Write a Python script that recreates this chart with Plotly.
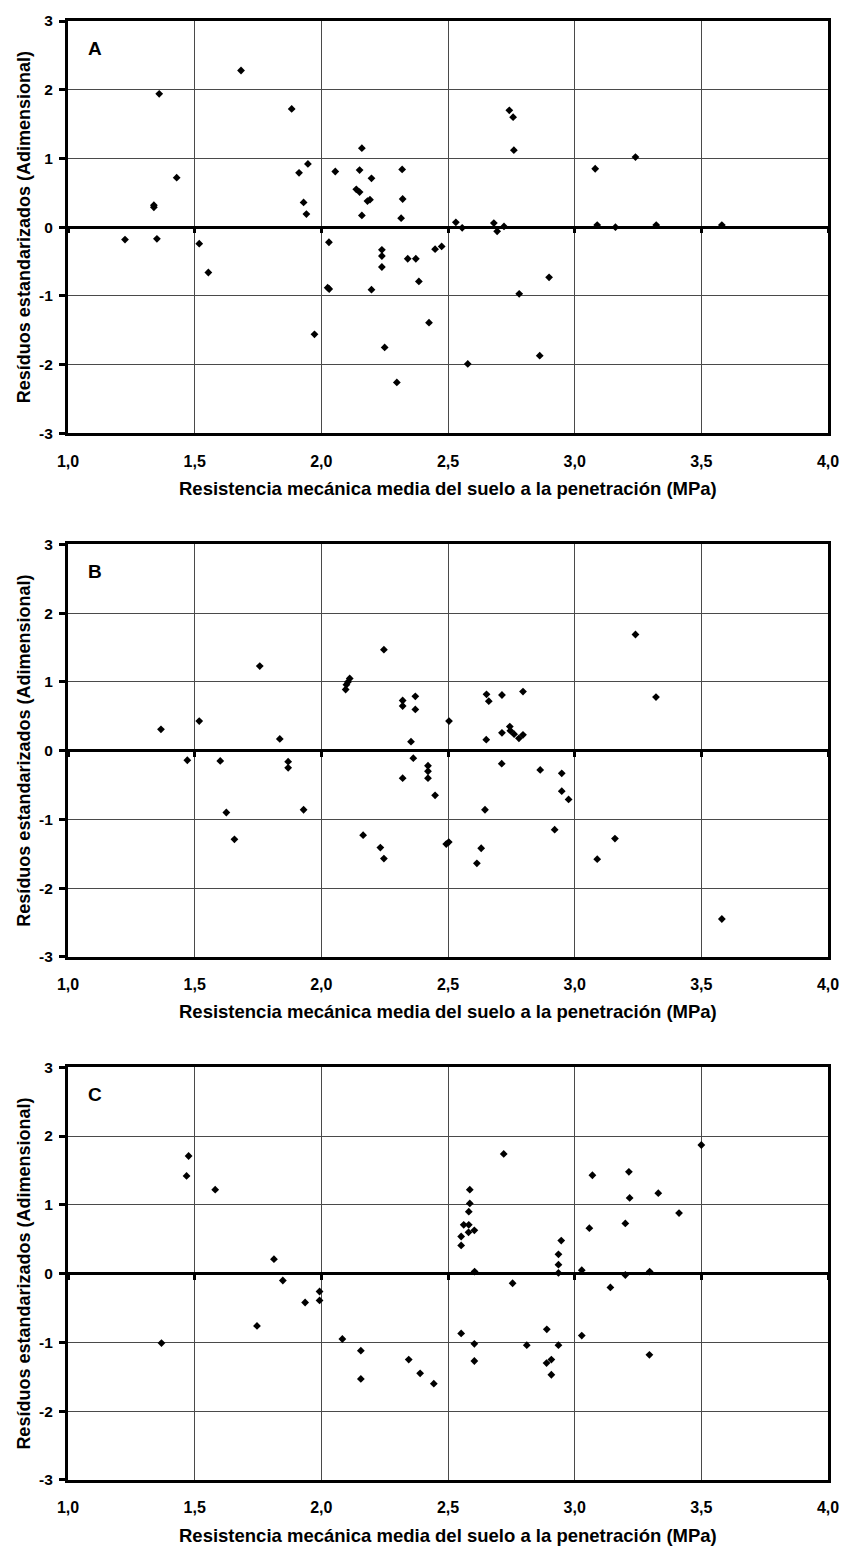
import plotly.graph_objects as go

# ---------------- data ----------------
x_tick_vals = [1.0, 1.5, 2.0, 2.5, 3.0, 3.5, 4.0]
x_tick_text = ["1,0", "1,5", "2,0", "2,5", "3,0", "3,5", "4,0"]
y_tick_vals = [-3, -2, -1, 0, 1, 2, 3]
y_tick_text = ["-3", "-2", "-1", "0", "1", "2", "3"]

panel_labels = ["A", "B", "C"]
x_title = "Resistencia mecánica media del suelo a la penetración (MPa)"
y_title = "Resíduos estandarizados (Adimensional)"

a_x = [1.225, 1.36, 1.339, 1.339, 1.351, 1.429, 1.518, 1.554, 1.683, 1.883,
       1.912, 1.947, 1.930, 1.941, 1.973, 2.030, 2.025, 2.031, 2.055, 2.160,
       2.151, 2.138, 2.151, 2.160, 2.198, 2.182, 2.192, 2.198, 2.239, 2.239,
       2.239, 2.250, 2.298, 2.319, 2.321, 2.315, 2.341, 2.373, 2.385, 2.425,
       2.449, 2.475, 2.531, 2.556, 2.578, 2.681, 2.694, 2.721, 2.742, 2.757,
       2.760, 2.781, 2.862, 2.899, 3.081, 3.089, 3.161, 3.240, 3.322, 3.581]
a_y = [-0.18, 1.94, 0.32, 0.29, -0.17, 0.72, -0.24, -0.66, 2.28, 1.72,
       0.79, 0.92, 0.36, 0.19, -1.56, -0.22, -0.88, -0.90, 0.81, 1.15,
       0.83, 0.55, 0.51, 0.17, 0.71, 0.38, 0.40, -0.91, -0.33, -0.42,
       -0.58, -1.75, -2.26, 0.84, 0.41, 0.13, -0.46, -0.46, -0.79, -1.39,
       -0.32, -0.28, 0.07, -0.01, -1.99, 0.06, -0.06, 0.01, 1.70, 1.60,
       1.12, -0.97, -1.87, -0.73, 0.85, 0.03, 0.0, 1.02, 0.03, 0.03]

b_x = [1.367, 1.471, 1.518, 1.601, 1.625, 1.657, 1.757, 1.836, 1.869, 1.869,
       1.930, 2.096, 2.099, 2.105, 2.112, 2.165, 2.233, 2.247, 2.247, 2.321,
       2.321, 2.371, 2.371, 2.354, 2.363, 2.321, 2.421, 2.421, 2.421, 2.449,
       2.493, 2.503, 2.504, 2.614, 2.631, 2.646, 2.651, 2.652, 2.661, 2.713,
       2.713, 2.712, 2.744, 2.746, 2.761, 2.780, 2.796, 2.796, 2.864, 2.921,
       2.949, 2.949, 2.976, 3.089, 3.159, 3.240, 3.321, 3.581]
b_y = [0.31, -0.14, 0.43, -0.15, -0.90, -1.29, 1.23, 0.17, -0.16, -0.25,
       -0.86, 0.89, 0.96, 1.00, 1.05, -1.23, -1.41, -1.57, 1.47, 0.73,
       0.65, 0.79, 0.60, 0.13, -0.11, -0.40, -0.22, -0.30, -0.40, -0.65,
       -1.36, -1.33, 0.43, -1.64, -1.42, -0.86, 0.16, 0.82, 0.72, 0.81,
       0.26, -0.19, 0.35, 0.29, 0.24, 0.18, 0.23, 0.86, -0.28, -1.15,
       -0.33, -0.59, -0.71, -1.58, -1.28, 1.69, 0.78, -2.45]

c_x = [1.369, 1.468, 1.476, 1.581, 1.746, 1.813, 1.848, 1.936, 1.993, 1.993,
       2.083, 2.156, 2.156, 2.345, 2.390, 2.444, 2.552, 2.552, 2.562, 2.581,
       2.582, 2.582, 2.586, 2.586, 2.604, 2.605, 2.552, 2.604, 2.604, 2.720,
       2.755, 2.811, 2.890, 2.889, 2.908, 2.908, 2.936, 2.936, 2.936, 2.936,
       2.947, 3.028, 3.028, 3.058, 3.070, 3.141, 3.200, 3.200, 3.214, 3.217,
       3.296, 3.295, 3.330, 3.412, 3.500]
c_y = [-1.01, 1.42, 1.71, 1.22, -0.76, 0.21, -0.10, -0.42, -0.26, -0.39,
       -0.95, -1.12, -1.53, -1.25, -1.45, -1.60, 0.41, 0.54, 0.71, 0.60,
       0.71, 0.90, 1.02, 1.22, 0.63, 0.03, -0.87, -1.02, -1.27, 1.74,
       -0.14, -1.04, -0.81, -1.30, -1.25, -1.47, -1.04, 0.01, 0.13, 0.28,
       0.48, 0.05, -0.90, 0.66, 1.43, -0.20, 0.73, -0.02, 1.48, 1.10,
       0.03, -1.18, 1.17, 0.88, 1.87]

# ---------------- figure ----------------
FONT = "Liberation Sans, Arial, sans-serif"
W, H = 851, 1546
ML, MR, MT, MB = 68, 14, 14, 66

panels = [(a_x, a_y), (b_x, b_y), (c_x, c_y)]
domains = [[0.7174, 1.0], [0.3586, 0.6412], [0.0, 0.2829]]

fig = go.Figure()
layout = dict(
    width=W, height=H,
    margin=dict(l=ML, r=MR, t=MT, b=MB),
    paper_bgcolor="white", plot_bgcolor="white",
    showlegend=False,
    font=dict(family=FONT, color="black"),
)
annotations = []

for i, ((px, py), dom, lab) in enumerate(zip(panels, domains, panel_labels), start=1):
    xa = "x" if i == 1 else f"x{i}"
    ya = "y" if i == 1 else f"y{i}"
    ov = i + 3
    fig.add_trace(go.Scatter(
        x=px, y=py, mode="markers", xaxis=xa, yaxis=ya,
        marker=dict(symbol="diamond", size=6, color="black", line=dict(width=0)),
        hoverinfo="x+y",
    ))
    # invisible trace to activate the zero-line tick axis
    fig.add_trace(go.Scatter(x=[], y=[], xaxis=f"x{ov}", yaxis=ya, hoverinfo="skip"))

    layout["xaxis" if i == 1 else f"xaxis{i}"] = dict(
        domain=[0, 1], anchor=ya, range=[1, 4],
        tickmode="array", tickvals=x_tick_vals, ticktext=x_tick_text,
        ticks="", ticklabelstandoff=11,
        tickfont=dict(size=16, family=FONT, weight="bold", color="black"),
        showgrid=True, gridcolor="#4a4a4a", gridwidth=1,
        zeroline=False,
        showline=True, mirror=True, linewidth=3, linecolor="black",
    )
    layout["yaxis" if i == 1 else f"yaxis{i}"] = dict(
        domain=dom, anchor=xa, range=[-3, 3],
        tickmode="array", tickvals=y_tick_vals, ticktext=y_tick_text,
        ticks="outside", ticklen=6, tickwidth=3, tickcolor="black",
        ticklabelstandoff=3,
        tickfont=dict(size=15.5, family=FONT, weight="bold", color="black"),
        showgrid=True, gridcolor="#4a4a4a", gridwidth=1,
        zeroline=True, zerolinecolor="black", zerolinewidth=3,
        showline=True, mirror=True, linewidth=3, linecolor="black",
    )
    layout[f"xaxis{ov}"] = dict(
        overlaying=xa, anchor="free", position=(dom[0] + dom[1]) / 2,
        range=[1, 4], tickmode="array", tickvals=x_tick_vals,
        ticks="outside", ticklen=5, tickwidth=3, tickcolor="black",
        showticklabels=False, showgrid=False, zeroline=False, showline=False,
    )

    annotations.append(dict(
        text=f"<b>{lab}</b>", xref=f"{xa} domain", yref=f"{ya} domain",
        x=0, y=1, xshift=18, yshift=-27, xanchor="left", yanchor="middle",
        showarrow=False, font=dict(size=19, family=FONT, color="black"),
    ))
    annotations.append(dict(
        text=f"<b>{x_title}</b>", xref=f"{xa} domain", yref=f"{ya} domain",
        x=0.5, y=0, yshift=-55, xanchor="center", yanchor="middle",
        showarrow=False, font=dict(size=18.5, family=FONT, color="black"),
    ))
    annotations.append(dict(
        text=f"<b>{y_title}</b>", xref=f"{xa} domain", yref=f"{ya} domain",
        x=0, y=0.5, xshift=-44, xanchor="center", yanchor="middle",
        textangle=-90,
        showarrow=False, font=dict(size=18, family=FONT, color="black"),
    ))

layout["annotations"] = annotations
fig.update_layout(**layout)
fig.write_html(
    "out.html",
    config={"displayModeBar": False},
    post_script="document.body.style.margin='0';document.body.style.overflow='hidden';",
)
